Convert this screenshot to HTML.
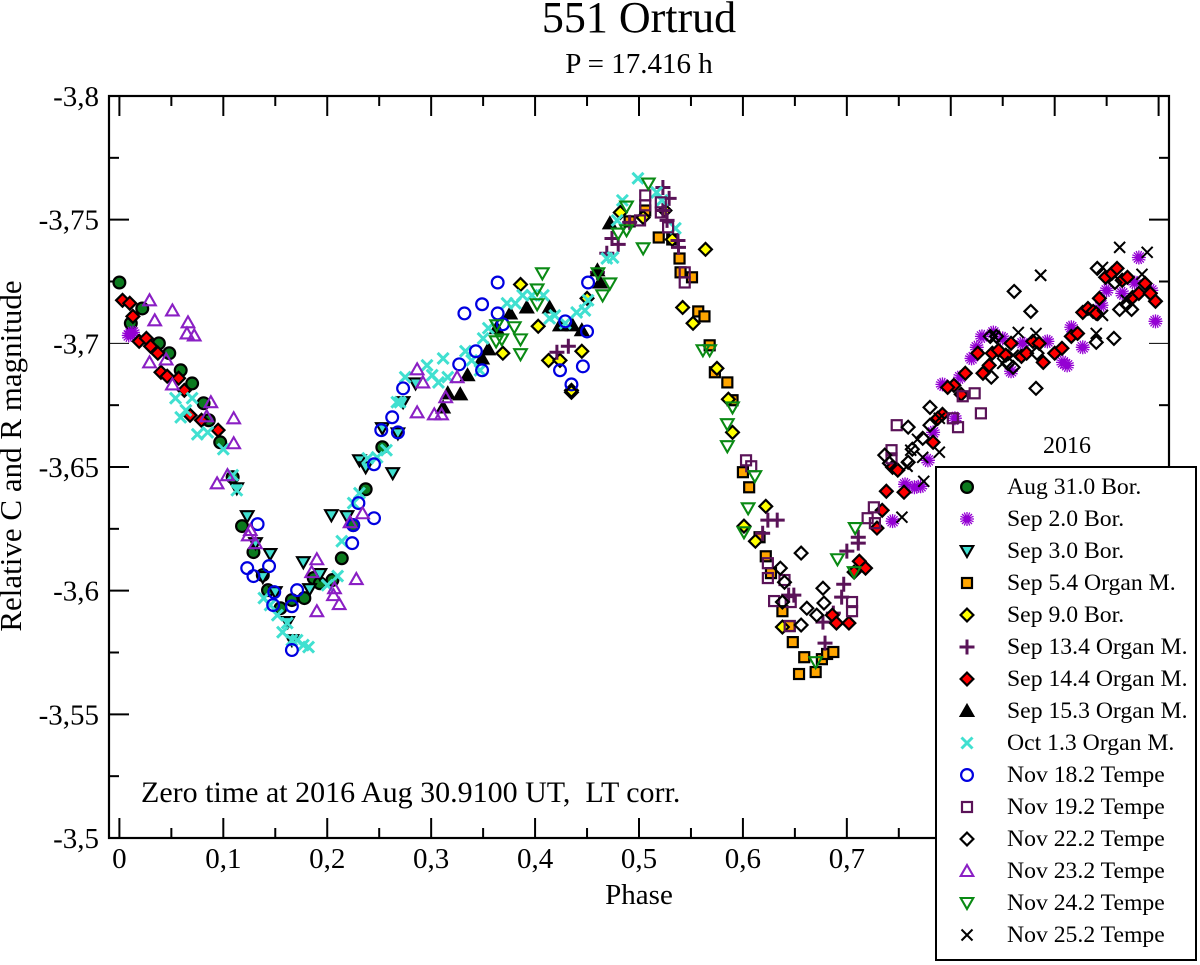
<!DOCTYPE html>
<html lang="en">
<head>
<meta charset="utf-8">
<title>551 Ortrud lightcurve</title>
<style>
html,body{margin:0;padding:0;background:#fff;}
svg{display:block;}
text{font-family:"Liberation Serif",serif;fill:#000;}
</style>
</head>
<body>
<svg id="chart" xmlns="http://www.w3.org/2000/svg" width="1200" height="965" viewBox="0 0 1200 965">
  <rect x="0" y="0" width="1200" height="965" fill="#fff"/>
  <text x="639" y="32" font-size="44" text-anchor="middle">551 Ortrud</text>
  <text x="639" y="73" font-size="29" text-anchor="middle">P = 17.416 h</text>
  <text transform="translate(21,456) rotate(-90)" font-size="31" text-anchor="middle">Relative C and R magnitude</text>
  <text x="639" y="904" font-size="29" text-anchor="middle">Phase</text>
  <g id="axes"></g>
  <g id="marks"></g>
  <text x="141" y="802" font-size="30">Zero time at 2016 Aug 30.9100 UT,&#160; LT corr.</text>
  <text x="1067" y="453" font-size="24" text-anchor="middle">2016</text>
  <g id="legend"></g>
</svg>
<script>
const xTickValues = [0, 0.1, 0.2, 0.3, 0.4, 0.5, 0.6, 0.7, 0.8, 0.9, 1];
const xTickLabels = ['0', '0,1', '0,2', '0,3', '0,4', '0,5', '0,6', '0,7', '', '', ''];
const yTickValues = [-3.8, -3.75, -3.7, -3.65, -3.6, -3.55, -3.5];
const yTickLabels = ['-3,8', '-3,75', '-3,7', '-3,65', '-3,6', '-3,55', '-3,5'];

const aug31 = [[0,-3.7246],[.022,-3.7141],[.011,-3.7081],[.038,-3.7],[.048,-3.696],[.059,-3.6891],[.07,-3.6838],[.081,-3.6758],[.086,-3.6689],[.097,-3.66],[.109,-3.6459],[.118,-3.6261],[.129,-3.6156],[.138,-3.6063],[.143,-3.6002],[.155,-3.5929],[.166,-3.5962],[.178,-3.597],[.187,-3.6051],[.193,-3.603],[.205,-3.6043],[.214,-3.6131],[.225,-3.6265],[.237,-3.641],[.253,-3.658]];
const sep2 = [[.011,-3.704],[.013,-3.7044],[.009,-3.7032],[.778,-3.6527],[.804,-3.6697],[.783,-3.664],[.792,-3.6834],[.809,-3.6863],[.82,-3.6939],[.825,-3.6984],[.83,-3.7028],[.841,-3.7044],[.85,-3.702],[.858,-3.6887],[.869,-3.7],[.893,-3.7008],[.908,-3.6923],[.912,-3.6911],[.916,-3.7065],[.927,-3.6984],[.945,-3.7154],[.95,-3.7214],[.965,-3.7202],[.977,-3.7246],[.981,-3.7347],[.993,-3.7214],[.997,-3.7089],[.744,-3.6281],[.756,-3.643],[.765,-3.6418],[.771,-3.6422]];
const sep3 = [[.113,-3.6414],[.123,-3.6301],[.131,-3.6192],[.145,-3.6148],[.138,-3.6055],[.15,-3.5994],[.162,-3.5873],[.166,-3.58],[.177,-3.6115],[.193,-3.6067],[.183,-3.6006],[.204,-3.6305],[.219,-3.6301],[.231,-3.6527],[.237,-3.6499],[.263,-3.6475],[.253,-3.6657],[.268,-3.6636],[.273,-3.6762],[.285,-3.6838]];
const sep5 = [[.519,-3.7428],[.532,-3.742],[.539,-3.7343],[.491,-3.7493],[.506,-3.7537],[.54,-3.7287],[.551,-3.7267],[.557,-3.7129],[.563,-3.7109],[.568,-3.6992],[.573,-3.6883],[.585,-3.6842],[.59,-3.677],[.6,-3.6479],[.606,-3.6418],[.616,-3.6216],[.622,-3.6139],[.627,-3.6071],[.638,-3.5917],[.645,-3.5857],[.648,-3.5792],[.659,-3.5731],[.654,-3.5663],[.67,-3.5671],[.676,-3.5723],[.681,-3.5744],[.687,-3.5752]];
const sep9 = [[.386,-3.7238],[.403,-3.7069],[.369,-3.696],[.413,-3.6931],[.424,-3.6931],[.445,-3.6968],[.435,-3.681],[.45,-3.7182],[.482,-3.7529],[.504,-3.7509],[.525,-3.7537],[.532,-3.742],[.564,-3.738],[.542,-3.7145],[.552,-3.7081],[.575,-3.6899],[.586,-3.6774],[.59,-3.664],[.622,-3.6341],[.601,-3.6261],[.612,-3.62],[.638,-3.5853]];
const sep13 = [[.432,-3.6988],[.421,-3.6964],[.46,-3.7287],[.469,-3.7364],[.474,-3.7424],[.48,-3.74],[.523,-3.763],[.529,-3.7586],[.523,-3.7537],[.527,-3.7497],[.5375,-3.7416],[.538,-3.7388],[.491,-3.7489],[.624,-3.6285],[.633,-3.6285],[.619,-3.6232],[.644,-3.5982],[.649,-3.5982],[.677,-3.5873],[.679,-3.5788],[.7,-3.616],[.711,-3.6216],[.711,-3.6192],[.697,-3.6026],[.695,-3.5974],[.687,-3.5909]];
const sep14 = [[.003,-3.7174],[.01,-3.7162],[.013,-3.7109],[.019,-3.7008],[.026,-3.702],[.03,-3.6988],[.037,-3.696],[.04,-3.6883],[.046,-3.6867],[.057,-3.6859],[.0625,-3.681],[.068,-3.6709],[.079,-3.6689],[.095,-3.6649],[.712,-3.6119],[.718,-3.6091],[.707,-3.6075],[.686,-3.5901],[.69,-3.5869],[.702,-3.5869],[.729,-3.6253],[.734,-3.6325],[.738,-3.6402],[.755,-3.6398],[.744,-3.6499],[.749,-3.6487],[.783,-3.66],[.792,-3.6713],[.7875,-3.6697],[.803,-3.683],[.797,-3.6822],[.81,-3.6794],[.814,-3.6879],[.826,-3.696],[.831,-3.6879],[.837,-3.6911],[.84,-3.696],[.846,-3.6972],[.853,-3.6952],[.858,-3.7],[.868,-3.6947],[.873,-3.696],[.879,-3.7008],[.885,-3.7],[.889,-3.6923],[.9,-3.696],[.907,-3.698],[.916,-3.7028],[.922,-3.704],[.943,-3.7182],[.927,-3.7125],[.932,-3.7141],[.937,-3.7129],[.94,-3.7121],[.949,-3.7267],[.955,-3.7283],[.96,-3.7303],[.965,-3.7255],[.97,-3.7267],[.975,-3.7186],[.981,-3.7202],[.987,-3.7242],[.992,-3.7202],[.997,-3.717]];
const sep15 = [[.3115,-3.6741],[.316,-3.6798],[.328,-3.6794],[.335,-3.6871],[.349,-3.6939],[.355,-3.6976],[.363,-3.7061],[.376,-3.7121],[.392,-3.7145],[.414,-3.7145],[.424,-3.7073],[.436,-3.7073],[.445,-3.7053],[.4625,-3.7246],[.472,-3.7485],[.46,-3.7295]];
const oct1 = [[.054,-3.6778],[.07,-3.6778],[.064,-3.6729],[.059,-3.6701],[.075,-3.6632],[.085,-3.664],[.1,-3.6572],[.109,-3.6467],[.113,-3.6406],[.139,-3.597],[.145,-3.5942],[.152,-3.5901],[.1615,-3.5869],[.157,-3.5832],[.166,-3.58],[.171,-3.58],[.177,-3.578],[.182,-3.5772],[.2,-3.6022],[.21,-3.6059],[.214,-3.62],[.225,-3.6354],[.231,-3.6394],[.239,-3.6535],[.248,-3.6539],[.257,-3.6568],[.267,-3.6762],[.27,-3.6762],[.275,-3.6863],[.296,-3.6911],[.301,-3.6871],[.3115,-3.6939],[.307,-3.6842],[.316,-3.6863],[.333,-3.6968],[.339,-3.6931],[.347,-3.6891],[.35,-3.702],[.355,-3.7061],[.373,-3.7162],[.381,-3.7162],[.388,-3.7194],[.397,-3.7194],[.408,-3.7194],[.419,-3.7113],[.414,-3.7101],[.429,-3.7081],[.44,-3.7125],[.448,-3.7133],[.451,-3.7174],[.469,-3.7343],[.475,-3.7347],[.479,-3.7497],[.484,-3.7578],[.499,-3.7667],[.517,-3.761],[.522,-3.7578],[.535,-3.7465]];
const nov18 = [[.133,-3.6269],[.123,-3.6091],[.129,-3.6059],[.144,-3.6099],[.149,-3.5994],[.148,-3.5942],[.166,-3.5937],[.171,-3.6002],[.166,-3.576],[.225,-3.6265],[.245,-3.6293],[.224,-3.6192],[.23,-3.6354],[.245,-3.6511],[.252,-3.6649],[.268,-3.664],[.2625,-3.6701],[.273,-3.6818],[.327,-3.6915],[.343,-3.6968],[.349,-3.6891],[.332,-3.7121],[.349,-3.7158],[.364,-3.7246],[.364,-3.7121],[.369,-3.7077],[.429,-3.7089],[.424,-3.6891],[.446,-3.6907],[.435,-3.6834],[.45,-3.7048],[.451,-3.7246]];
const nov19 = [[.506,-3.7598],[.506,-3.7558],[.521,-3.757],[.521,-3.7529],[.528,-3.7469],[.501,-3.7497],[.544,-3.7287],[.544,-3.7246],[.603,-3.6527],[.608,-3.6503],[.624,-3.6111],[.624,-3.6051],[.63,-3.5958],[.64,-3.6043],[.646,-3.5954],[.645,-3.5857],[.705,-3.5954],[.705,-3.5917],[.726,-3.6337],[.72,-3.6293],[.727,-3.6273],[.748,-3.6669],[.743,-3.6568],[.743,-3.6535],[.823,-3.6798],[.829,-3.6717],[.8115,-3.6786],[.802,-3.6697],[.807,-3.6661]];
const nov22 = [[.435,-3.6802],[.656,-3.6152],[.636,-3.6091],[.64,-3.6034],[.638,-3.5954],[.6615,-3.5929],[.656,-3.5861],[.671,-3.5901],[.678,-3.595],[.677,-3.601],[.7365,-3.6548],[.759,-3.6661],[.78,-3.6741],[.763,-3.6572],[.759,-3.6519],[.741,-3.6515],[.78,-3.6669],[.773,-3.6616],[.839,-3.6863],[.838,-3.7028],[.844,-3.7028],[.861,-3.721],[.877,-3.7129],[.882,-3.6818],[.86,-3.6903],[.855,-3.6919],[.883,-3.696],[.94,-3.7004],[.957,-3.702],[.9625,-3.7137],[.974,-3.7137],[.969,-3.7158],[.941,-3.7303],[.958,-3.7246]];
const nov23 = [[.029,-3.7174],[.034,-3.7093],[.051,-3.7133],[.066,-3.7085],[.065,-3.704],[.072,-3.7032],[.029,-3.6923],[.045,-3.6935],[.051,-3.6834],[.088,-3.6762],[.084,-3.6705],[.11,-3.6697],[.11,-3.6596],[.094,-3.6434],[.104,-3.6467],[.126,-3.6245],[.124,-3.6224],[.131,-3.6192],[.19,-3.6127],[.185,-3.6075],[.207,-3.601],[.206,-3.5982],[.2115,-3.5946],[.19,-3.5917],[.228,-3.6047],[.222,-3.6277],[.234,-3.6313],[.2865,-3.6895],[.292,-3.6842],[.325,-3.6863],[.2865,-3.6721],[.303,-3.6713],[.31,-3.6713],[.314,-3.6782]];
const nov24 = [[.407,-3.7283],[.402,-3.7218],[.402,-3.7158],[.363,-3.7073],[.38,-3.7065],[.3625,-3.7008],[.368,-3.7016],[.386,-3.7016],[.386,-3.6956],[.4605,-3.7283],[.472,-3.7242],[.465,-3.7194],[.48,-3.7444],[.488,-3.7457],[.488,-3.7553],[.509,-3.7646],[.504,-3.7384],[.5615,-3.6972],[.568,-3.6972],[.59,-3.6741],[.585,-3.6673],[.585,-3.6584],[.6115,-3.6463],[.605,-3.6333],[.601,-3.6236],[.691,-3.6127],[.708,-3.6253],[.707,-3.6075],[.67,-3.5711]];
const nov25 = [[.9625,-3.7388],[.989,-3.7368],[.8865,-3.7275],[.8865,-3.7275],[.946,-3.7307],[.984,-3.7279],[.946,-3.7113],[.94,-3.704],[.882,-3.704],[.865,-3.7044],[.842,-3.7028],[.85,-3.6919],[.773,-3.6539],[.789,-3.656],[.768,-3.6612],[.789,-3.6697],[.969,-3.7174],[.86,-3.6952],[.753,-3.6297],[.758,-3.6503],[.774,-3.6442],[.7615,-3.6568]];

const seriesNames = ['Aug 31.0 Bor.', 'Sep 2.0 Bor.', 'Sep 3.0 Bor.', 'Sep 5.4 Organ M.', 'Sep 9.0 Bor.', 'Sep 13.4 Organ M.', 'Sep 14.4 Organ M.', 'Sep 15.3 Organ M.', 'Oct 1.3 Organ M.', 'Nov 18.2 Tempe', 'Nov 19.2 Tempe', 'Nov 22.2 Tempe', 'Nov 23.2 Tempe', 'Nov 24.2 Tempe', 'Nov 25.2 Tempe'];
const seriesData = [aug31, sep2, sep3, sep5, sep9, sep13, sep14, sep15, oct1, nov18, nov19, nov22, nov23, nov24, nov25];
const seriesShapes = ['circle', 'star', 'tridown', 'square', 'diamond', 'plus', 'diamond', 'triup', 'cross', 'circle', 'square', 'diamond', 'triup', 'tridown', 'cross'];
const seriesFills = ['#0b7a1e', '#9400d3', '#40e0d0', '#ffa500', '#ffff00', 'none', '#ff0000', '#000000', 'none', 'none', 'none', 'none', 'none', 'none', 'none'];
const seriesStrokes = ['#000', '#9400d3', '#000', '#000', '#000', '#5a1358', '#000', '#000', '#40e0d0', '#0000e0', '#5a1358', '#000', '#8a1fc4', '#0a8a14', '#000'];

const NS = 'http://www.w3.org/2000/svg';
const xMinP = -0.01, xMaxP = 1.01, yTop = -3.8, yBottom = -3.5;
const plotL = 109, plotR = 1169, plotT = 96, plotB = 838;
function xScale(p) { return plotL + (p - xMinP) * (plotR - plotL) / (xMaxP - xMinP); }
function yScale(v) { return plotT + (v - yTop) * (plotB - plotT) / (yBottom - yTop); }

function make(tag, attrs, parent) {
  const el = document.createElementNS(NS, tag);
  for (const k in attrs) el.setAttribute(k, attrs[k]);
  parent.appendChild(el);
  return el;
}

function drawTick(parent, x1, y1, x2, y2, width) {
  const t = make('line', { x1: x1, y1: y1, x2: x2, y2: y2, stroke: '#000', 'stroke-width': width }, parent);
  
  
}

const axes = document.getElementById('axes');
const frame = make('rect', { x: plotL, y: plotT, width: plotR - plotL, height: plotB - plotT, fill: 'none', stroke: '#000', 'stroke-width': 2.2 }, axes);



xTickValues.forEach(function (p, i) {
  const x = xScale(p);
  drawTick(axes, x, plotT, x, plotT + 20, 2);
  drawTick(axes, x, plotB, x, plotB - 20, 2);
  if (i < xTickValues.length - 1) {
    const xm = xScale(p + 0.05);
    drawTick(axes, xm, plotT, xm, plotT + 10, 2);
    drawTick(axes, xm, plotB, xm, plotB - 10, 2);
  }
  if (xTickLabels[i]) {
    const lab = make('text', { x: x, y: 868, 'font-size': 29, 'text-anchor': 'middle' }, axes);
    lab.textContent = xTickLabels[i];
    
    
  }
});

yTickValues.forEach(function (v, i) {
  const y = yScale(v);
  const w = yTickLabels[i] === '-3,7' ? 1 : 2;
  if (i > 0 && i < yTickValues.length - 1) {
    drawTick(axes, plotL, y, plotL + 20, y, w);
    drawTick(axes, plotR, y, plotR - 20, y, w);
  }
  if (i < yTickValues.length - 1) {
    const ym = yScale(v + 0.025);
    drawTick(axes, plotL, ym, plotL + 10, ym, 2);
    drawTick(axes, plotR, ym, plotR - 10, ym, 2);
  }
  const lab = make('text', { x: 99, y: y + 10, 'font-size': 29, 'text-anchor': 'end' }, axes);
  lab.textContent = yTickLabels[i];
  
  
});

function drawMarker(parent, shape, cx, cy, fill, stroke) {
  const g = make('g', { transform: 'translate(' + cx + ',' + cy + ')' }, parent);
  if (shape === 'circle') {
    make('circle', { r: 5.9, fill: fill, stroke: stroke, 'stroke-width': 2.2 }, g);
  } else if (shape === 'square') {
    make('rect', { x: -5, y: -5, width: 10, height: 10, fill: fill, stroke: stroke, 'stroke-width': 2.2 }, g);
  } else if (shape === 'diamond') {
    make('polygon', { points: '0,-6.4 6.4,0 0,6.4 -6.4,0', fill: fill, stroke: stroke, 'stroke-width': 2.2 }, g);
  } else if (shape === 'triup') {
    make('polygon', { points: '0,-6 6.3,5 -6.3,5', fill: fill, stroke: stroke, 'stroke-width': 2.1 }, g);
  } else if (shape === 'tridown') {
    make('polygon', { points: '0,6 6.3,-5 -6.3,-5', fill: fill, stroke: stroke, 'stroke-width': 2.1 }, g);
  } else if (shape === 'plus') {
    make('path', { d: 'M-7.5 0H7.5M0 -7.5V7.5', fill: 'none', stroke: stroke, 'stroke-width': 3 }, g);
  } else if (shape === 'cross') {
    const w = stroke === '#000' ? 2 : 3;
    make('path', { d: 'M-5.5 -5.5L5.5 5.5M-5.5 5.5L5.5 -5.5', fill: 'none', stroke: stroke, 'stroke-width': w }, g);
  } else if (shape === 'star') {
    make('path', { d: 'M-7 0H7M0 -7V7M-5 -5L5 5M-5 5L5 -5M-6.5 -2.7L6.5 2.7M-6.5 2.7L6.5 -2.7M-2.7 -6.5L2.7 6.5M2.7 -6.5L-2.7 6.5', fill: 'none', stroke: stroke, 'stroke-width': 1.3 }, g);
  }
  return g;
}

const marks = document.getElementById('marks');
seriesData.forEach(function (points, s) {
  const group = make('g', {}, marks);
  
  
  points.forEach(function (pt) {
    const m = drawMarker(group, seriesShapes[s], xScale(pt[0]), yScale(pt[1]), seriesFills[s], seriesStrokes[s]);
    
    
  });
});

const legend = document.getElementById('legend');
const box = make('rect', { x: 936, y: 467, width: 260, height: 493, fill: '#fff', stroke: '#000', 'stroke-width': 2 }, legend);


seriesNames.forEach(function (name, s) {
  const rowY = 487 + 32 * s;
  const m = drawMarker(legend, seriesShapes[s], 967, rowY, seriesFills[s], seriesStrokes[s]);
  
  
  const t = make('text', { x: 1007, y: rowY + 7, 'font-size': 23.7 }, legend);
  t.textContent = name;
  
  
});
</script>
</body>
</html>
